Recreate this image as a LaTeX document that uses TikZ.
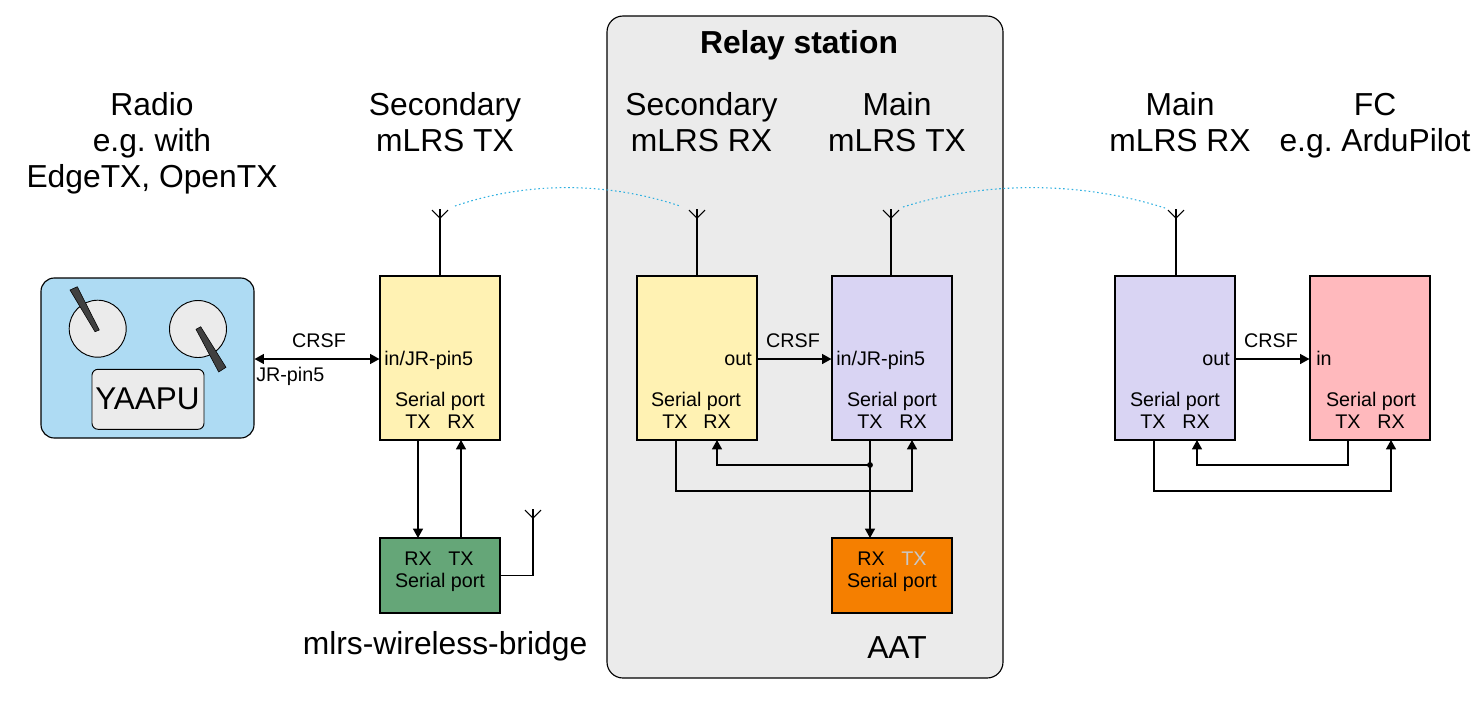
\documentclass[tikz,border=0pt]{standalone}
\usepackage{fontspec}
\setmainfont{Liberation Sans}
\usetikzlibrary{arrows.meta}
\frenchspacing
\definecolor{cyellow}{HTML}{FFF2B3}
\definecolor{cpurple}{HTML}{D9D4F3}
\definecolor{cpink}{HTML}{FFB9BD}
\definecolor{cgreen}{HTML}{65A678}
\definecolor{corange}{HTML}{F57F00}
\definecolor{cblue}{HTML}{AEDBF3}
\definecolor{cgray}{HTML}{EBEBEB}
\definecolor{cdark}{HTML}{404040}
\definecolor{clink}{HTML}{30B0E0}
\definecolor{cfaint}{HTML}{C8C8C8}
\tikzset{
  box/.style={draw=black,line width=0.85pt,inner sep=0pt,minimum width=90pt,minimum height=123pt},
  lowbox/.style={draw=black,line width=0.85pt,inner sep=0pt,minimum width=90pt,minimum height=56.25pt},
  big/.style={font=\fontsize{23.85}{27}\selectfont,align=center,inner sep=0pt},
  small/.style={font=\fontsize{14.8}{16.5}\selectfont,inner sep=0pt,anchor=base},
  smallleft/.style={small,anchor=base west},
  smallright/.style={small,anchor=base east},
  wire/.style={draw=black,line width=0.85pt},
  arrow/.style={wire,-{Triangle[length=7pt,width=7.5pt]}},
  biarrow/.style={wire,{Triangle[length=7pt,width=7.5pt]}-{Triangle[length=7pt,width=7.5pt]}},
  radiolink/.style={draw=clink,line width=0.8pt,line cap=butt,dash pattern=on 1.2pt off 2pt},
  antenna/.style={draw=black,line width=0.8pt},
  knob/.style={circle,draw=black,fill=cgray,line width=0.7pt,minimum size=42.75pt,inner sep=0pt},
  stick/.style={draw=black,fill=cdark,line width=0.4pt}
}
\begin{document}
\begin{tikzpicture}[x=0.75pt,y=-0.75pt]
\useasboundingbox (0,0) rectangle (1484,701);
% relay panel
\node[draw=black,fill=cgray,line width=0.85pt,rounded corners=12pt,inner sep=0pt,minimum width=297pt,minimum height=496.5pt] (relay) at (805,347) {};
\node[big,font=\fontsize{23.85}{27}\selectfont\bfseries,anchor=base] (relaytitle) at (799,53) {Relay station};
% radio
\node[draw=black,fill=cblue,line width=0.85pt,rounded corners=10pt,inner sep=0pt,minimum width=159.75pt,minimum height=120pt] (radio) at (147.5,358) {};
\node[knob] (knobl) at (97.7,328.7) {};
\node[knob] (knobr) at (198,329) {};
\draw[stick] (70,290) -- (77.3,286.7) -- (99.3,330) -- (95,331.7) -- cycle;
\draw[stick] (196,329.3) -- (200.7,326.7) -- (226,367.3) -- (218.7,372) -- cycle;
\node[draw=black,fill=cgray,line width=0.7pt,rounded corners=4.5pt,inner sep=0pt,minimum width=84pt,minimum height=45pt] (yaapubox) at (148,399.3) {};
\node[anchor=base,inner sep=0pt,font=\fontsize{23.6}{27}\selectfont] (yaapu) at (147.5,409) {YAAPU};
% boxes
\node[box,fill=cyellow] (stx) at (440,358) {};
\node[box,fill=cyellow] (srx) at (697,358) {};
\node[box,fill=cpurple] (mtx) at (892,358) {};
\node[box,fill=cpurple] (mrx) at (1175,358) {};
\node[box,fill=cpink] (fc) at (1370,358) {};
\node[lowbox,fill=cgreen] (bridge) at (440,575.5) {};
\node[lowbox,fill=corange] (aat) at (892,575.5) {};
% coordinates: ports
\coordinate (stxtx) at (418,440); \coordinate (stxrx) at (461,440);
\coordinate (brrx) at (418,538); \coordinate (brtx) at (461,538);
\coordinate (srxtx) at (676,440); \coordinate (srxrx) at (717,440);
\coordinate (mtxtx) at (870,440); \coordinate (mtxrx) at (912,440);
\coordinate (aatrx) at (870,538);
\coordinate (junction) at (870,465);
\coordinate (mrxtx) at (1154,440); \coordinate (mrxrx) at (1197,440);
\coordinate (fctx) at (1348,440); \coordinate (fcrx) at (1391,440);
\coordinate (lowrelay) at (0,491); \coordinate (lowmain) at (0,465);
% antenna tips
\coordinate (ant1) at (440,209); \coordinate (ant2) at (697,209);
\coordinate (ant3) at (891,209); \coordinate (ant4) at (1176,209);
\coordinate (ant5) at (533,509);
\foreach \a in {ant1,ant2,ant3,ant4,ant5}{
  \draw[antenna] ([xshift=-6pt,yshift=-0.8pt]\a) -- ([yshift=-6.8pt]\a) -- ([xshift=6pt,yshift=-0.8pt]\a);
}
\draw[antenna] (ant1) -- (ant1 |- stx.north);
\draw[antenna] (ant2) -- (ant2 |- srx.north);
\draw[antenna] (ant3) -- (ant3 |- mtx.north);
\draw[antenna] (ant4) -- (ant4 |- mrx.north);
\draw[antenna] (ant5) |- (bridge.east);
% radio links
\coordinate (l1a) at (455,206); \coordinate (l1b) at (680,206);
\coordinate (l2a) at (903,207); \coordinate (l2b) at (1165,208);
\draw[radiolink] (l1a) .. controls (525,182) and (605,181) .. (l1b);
\draw[radiolink] (l2a) .. controls (985,181) and (1080,181) .. (l2b);
% connectors
\draw[biarrow] (radio.east |- stx.center) ++(0,1) coordinate (radioport) (radioport) -- (radioport -| stx.west);
\draw[arrow] (srx.east |- radioport) -- (mtx.west |- radioport);
\draw[arrow] (mrx.east |- radioport) -- (fc.west |- radioport);
\draw[arrow] (stxtx) -- (brrx);
\draw[arrow] (brtx) -- (stxrx);
\draw[arrow] (mtxtx) -- (aatrx);
\draw[arrow] (srxtx) -- (srxtx |- lowrelay) -| (mtxrx);
\draw[arrow] (junction) -| (srxrx);
\fill[black] (junction) circle (2.2pt);
\draw[arrow] (mrxtx) -- (mrxtx |- lowrelay) -| (fcrx);
\draw[arrow] (fctx) -- (fctx |- lowmain) -| (mrxrx);
% small labels
\node[small] (crsf1) at (319,347) {CRSF};
\node[small] (crsf2) at (793,347) {CRSF};
\node[small] (crsf3) at (1271,347) {CRSF};
\node[smallleft] (jr) at (256,381.5) {JR-pin5};
\node[smallleft] (in1) at (384,365.5) {in/JR-pin5};
\node[smallleft] (in2) at (836,365.5) {in/JR-pin5};
\node[smallleft] (in3) at (1316,365.5) {in};
\node[smallright] (out1) at (752,365.5) {out};
\node[smallright] (out2) at (1230,365.5) {out};
\node[small] (sp1) at (440,406.5) {Serial port};
\node[small] (tx1) at (418,428) {TX};
\node[small] (rx1) at (461,428) {RX};
\node[small] (sp2) at (696,406.5) {Serial port};
\node[small] (tx2) at (675,428) {TX};
\node[small] (rx2) at (717,428) {RX};
\node[small] (sp3) at (892,406.5) {Serial port};
\node[small] (tx3) at (870,428) {TX};
\node[small] (rx3) at (913,428) {RX};
\node[small] (sp4) at (1175,406.5) {Serial port};
\node[small] (tx4) at (1153,428) {TX};
\node[small] (rx4) at (1196,428) {RX};
\node[small] (sp5) at (1371,406.5) {Serial port};
\node[small] (tx5) at (1348,428) {TX};
\node[small] (rx5) at (1391,428) {RX};
\node[small] (brrxt) at (418,565) {RX};
\node[small] (brtxt) at (461,565) {TX};
\node[small] (brsp) at (440,587) {Serial port};
\node[small] (aatrxt) at (871,565) {RX};
\node[small,text=cfaint] (aattxt) at (914,565) {TX};
\node[small] (aatsp) at (892,587) {Serial port};
% titles
\node[big] (tradio) at (152,143) {Radio\\e.g. with\\EdgeTX, OpenTX};
\node[big] (tstx) at (445,122) {Secondary\\mLRS TX};
\node[big] (tsrx) at (701.5,122) {Secondary\\mLRS RX};
\node[big] (tmtx) at (897,122) {Main\\mLRS TX};
\node[big] (tmrx) at (1180,122) {Main\\mLRS RX};
\node[big] (tfc) at (1375,126) {FC\\e.g. ArduPilot};
\node[big,anchor=base] (tbridge) at (445,654) {mlrs-wireless-bridge};
\node[big,anchor=base] (taat) at (897,658) {AAT};
\end{tikzpicture}
\end{document}
